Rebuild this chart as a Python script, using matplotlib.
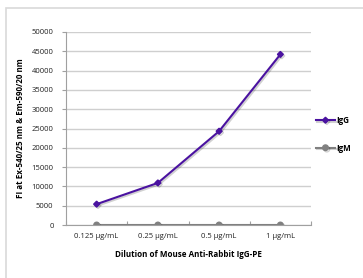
import matplotlib.pyplot as plt
import matplotlib.patheffects as pe
from matplotlib.patches import Rectangle

# data
dilutions = ["0.125 µg/mL", "0.25 µg/mL", "0.5 µg/mL", "1 µg/mL"]
igg = [5400, 10900, 24300, 44200]
igm = [0, 0, 0, 0]
y_ticks = list(range(0, 50001, 5000))

plt.rcParams['font.family'] = ['Open Sans', 'DejaVu Sans']

W, H = 363, 278
fig = plt.figure(figsize=(W / 100, H / 100), dpi=100)
fig.patch.set_facecolor("white")

# outer frame like the reference (clipped on right/bottom)
fig.patches.append(Rectangle((6 / W, -0.1), 1.2, (H - 8) / H + 0.1,
                             transform=fig.transFigure, fill=False,
                             edgecolor="#d9d9d9", linewidth=1.2))

ax = fig.add_axes([66 / W, (H - 225) / H, (311 - 66) / W, (225 - 32) / H])
x = list(range(len(dilutions)))

shadow = [pe.SimpleLineShadow(offset=(1, -1), alpha=0.18), pe.Normal()]
ax.plot(x, igg, color="#4a12a0", linewidth=1.5, marker="D", markersize=3,
        label="IgG", path_effects=shadow, zorder=3)
ax.plot(x, igm, color="#808080", linewidth=1.5, marker="o", markersize=4,
        label="IgM", path_effects=shadow, zorder=3)

ax.set_xlim(-0.5, len(dilutions) - 0.5)
ax.set_ylim(0, 50000)
ax.set_yticks(y_ticks)
ax.set_yticklabels([str(v) for v in y_ticks], fontsize=5.5, color="#222222")
ax.set_xticks(x)
ax.set_xticklabels(dilutions, fontsize=5.5, color="#222222")
ax.tick_params(axis="x", length=0, pad=6)
ax.tick_params(axis="y", length=3, color="#a0a0a0", width=0.8, pad=6)
ax.set_xticks([i + 0.5 for i in range(-1, len(dilutions))], minor=True)
ax.tick_params(axis="x", which="minor", length=3, direction="in",
               color="#a0a0a0", width=0.8)

ax.grid(axis="y", color="#cfcfcf", linewidth=1.0)
ax.set_axisbelow(True)
for s in ["top", "right"]:
    ax.spines[s].set_visible(False)
ax.spines["left"].set_color("#a0a0a0")
ax.spines["bottom"].set_color("#a0a0a0")
ax.spines["left"].set_linewidth(0.8)
ax.spines["bottom"].set_linewidth(0.8)

ax.set_xlabel("Dilution of Mouse Anti-Rabbit IgG-PE", fontsize=5.8,
              fontweight="bold", labelpad=7)
ax.set_ylabel("FI at Ex-540/25 nm & Em-590/20 nm", fontsize=5.8,
              fontweight="bold", labelpad=5)

leg = ax.legend(loc="center left", bbox_to_anchor=(0.99, 0.47), frameon=False,
                fontsize=5.8, handlelength=2.4, handletextpad=0.2,
                labelspacing=2.3)
for t in leg.get_texts():
    t.set_fontweight("bold")

fig.savefig("out.png", dpi=100)
